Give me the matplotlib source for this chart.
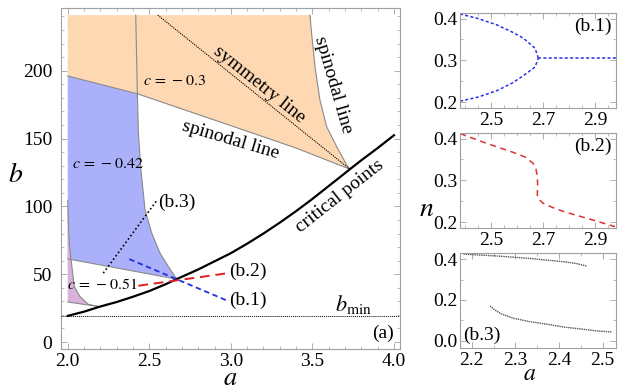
import numpy as np
import matplotlib
matplotlib.use("Agg")
import matplotlib.pyplot as plt
from matplotlib.ticker import MultipleLocator

plt.rcParams['font.family'] = ['Liberation Serif', 'DejaVu Serif']
plt.rcParams['mathtext.fontset'] = 'stix'

# ---------------- data ----------------
b_top = 241.0
# right spinodal line (top -> cusp)
spin_r_a = [3.485, 3.495, 3.516, 3.546, 3.587, 3.649, 3.71, 3.73]
spin_r_b = [241.0, 227.6, 203.0, 178.4, 158.8, 144.0, 130.6, 127.4]
# lower spinodal line (left -> cusp)
spin_l_a = [2.0, 2.427, 3.0, 3.4, 3.73]
spin_l_b = [196.1, 183.0, 159.5, 143.0, 127.4]
# c = -0.42 boundary (top -> critical point)
c042_a = [2.417, 2.427, 2.433, 2.447, 2.474, 2.515, 2.566, 2.617, 2.668]
c042_b = [241.0, 183.0, 155.0, 129.3, 97.4, 80.3, 65.5, 55.7, 46.4]
# lower boundary of c = -0.42 region
c042_low_a = [2.668, 2.0]
c042_low_b = [46.4, 61.3]
# c = -0.51 region boundary
c051_a = [2.0, 2.004, 2.01, 2.02, 2.04, 2.075, 2.126, 2.19]
c051_b = [104.3, 88.0, 72.0, 61.3, 41.0, 33.6, 27.8, 26.2]
c051_low_a = [2.19, 2.0]
c051_low_b = [26.2, 29.5]
# critical points
crit_a = [2.0, 2.1, 2.2, 2.3, 2.4, 2.5, 2.6, 2.668, 2.8, 2.9, 3.0, 3.1, 3.2,
          3.3, 3.4, 3.5, 3.6, 3.7, 3.73, 3.8, 3.9, 4.0]
crit_b = [19.3, 22.4, 26.2, 29.5, 33.4, 37.6, 42.6, 46.4, 53.5, 59.5, 65.5, 72.5, 80.0,
          88.0, 96.5, 105.5, 115.0, 124.5, 127.4, 134.0, 143.0, 152.4]
# symmetry line
sym_a = [2.552, 3.73]
sym_b = [241.0, 127.4]
b_min = 19.3
# cut lines
cut1_a = [2.378, 2.98]; cut1_b = [61.1, 30.4]
cut2_a = [2.433, 2.984]; cut2_b = [41.5, 50.8]
cut3_a = [2.218, 2.549]; cut3_b = [50.8, 104.8]

# panel (b.1)
b1_up_a = [2.38, 2.45, 2.521, 2.58, 2.624, 2.669, 2.682]
b1_up_n = [0.411, 0.400, 0.385, 0.368, 0.353, 0.329, 0.305]
b1_lo_a = [2.38, 2.45, 2.521, 2.58, 2.624, 2.669, 2.682]
b1_lo_n = [0.202, 0.212, 0.227, 0.245, 0.263, 0.284, 0.305]
b1_flat_a = [2.682, 2.98]
b1_flat_n = [0.305, 0.305]
# panel (b.2)
b2_a = [2.38, 2.48, 2.58, 2.63, 2.661, 2.672, 2.678, 2.679, 2.678, 2.683, 2.70, 2.74, 2.78, 2.88, 2.977]
b2_n = [0.412, 0.389, 0.368, 0.356, 0.341, 0.329, 0.31, 0.29, 0.265, 0.255, 0.245, 0.234, 0.225, 0.207, 0.189]
# panel (b.3)
b3_up_a = [2.181, 2.257, 2.333, 2.410, 2.440, 2.463]
b3_up_n = [0.424, 0.415, 0.403, 0.387, 0.378, 0.366]
b3_lo_a = [2.242, 2.253, 2.268, 2.295, 2.333, 2.372, 2.410, 2.448, 2.486, 2.52]
b3_lo_n = [0.171, 0.151, 0.132, 0.111, 0.094, 0.082, 0.068, 0.059, 0.049, 0.044]

ORANGE = '#fdd8b2'
BLUE = '#aab0fa'
PURPLE = '#d9b2dc'
EDGE = '#8a8a8a'
FRAME = '#a0a0a0'

W, H = 618, 389
fig = plt.figure(figsize=(W / 100, H / 100), dpi=100)


def style(ax, fs=13, ypad=5, xpad=3):
    for s in ax.spines.values():
        s.set_color(FRAME)
        s.set_linewidth(0.8)
    ax.tick_params(which='both', direction='in', color=FRAME, top=True, right=True,
                   labelsize=fs)
    ax.tick_params(which='major', length=4, width=0.6)
    ax.tick_params(which='minor', length=2, width=0.5)
    ax.tick_params(axis='y', pad=ypad)
    ax.tick_params(axis='x', pad=xpad)


# ---------------- main panel ----------------
ax = fig.add_axes([60.7 / W, 1 - 348.7 / H, (400 - 60.7) / W, (348.7 - 8.3) / H])
ax.set_xlim(1.957, 4.037)
ax.set_ylim(-4.9, 246)

# orange region
oa = np.concatenate([[2.0], spin_r_a, spin_l_a[::-1]])
ob = np.concatenate([[b_top], spin_r_b, spin_l_b[::-1]])
ax.fill(oa, ob, color=ORANGE, lw=0, zorder=1)
# blue region
ba = np.concatenate([spin_l_a[:2], c042_a[2:], c042_low_a[1:]])
bb = np.concatenate([spin_l_b[:2], c042_b[2:], c042_low_b[1:]])
ax.fill(ba, bb, color=BLUE, lw=0, zorder=2)
# purple region
pa = np.concatenate([c051_a, c051_low_a[1:]])
pb = np.concatenate([c051_b, c051_low_b[1:]])
ax.fill(pa, pb, color=PURPLE, lw=0, zorder=2)

# boundaries
ax.plot(spin_r_a, spin_r_b, color=EDGE, lw=0.8, zorder=3)
ax.plot(spin_l_a, spin_l_b, color=EDGE, lw=0.8, zorder=3)
ax.plot(c042_a, c042_b, color=EDGE, lw=0.8, zorder=3)
ax.plot(c042_low_a, c042_low_b, color=EDGE, lw=0.8, zorder=3)
ax.plot(c051_a, c051_b, color=EDGE, lw=0.8, zorder=3)
ax.plot(c051_low_a, c051_low_b, color=EDGE, lw=0.8, zorder=3)

ax.plot(sym_a, sym_b, color='black', lw=0.8, ls=(0, (1, 1)), zorder=4)
ax.axhline(b_min, color='black', lw=0.7, ls=(0, (1, 1)), zorder=4)
ax.plot(crit_a, crit_b, color='black', lw=1.6, zorder=5)

ax.plot(cut3_a, cut3_b, color='black', lw=1.2, ls=(0, (1, 1.5)), zorder=6)
ax.plot(cut2_a, cut2_b, color='#e02020', lw=1.4, ls=(0, (5, 3)), zorder=6)
ax.plot(cut1_a, cut1_b, color='#2030e0', lw=1.3, ls=(0, (3, 2)), zorder=6)

txt = dict(fontsize=11.5, zorder=7)
ax.text(2.463, 192.4, r'$c\,=\,-0.3$', ha='left', va='center', **txt)
ax.text(2.024, 131.0, r'$c\,=\,-0.42$', ha='left', va='center', **txt)
ax.text(1.994, 41.7, r'$c\,=\,-0.51$', ha='left', va='center', **txt)
ax.text(2.555, 103.0, '(b.3)', ha='left', va='center', fontsize=14, zorder=7)
ax.text(2.99, 52.0, '(b.2)', ha='left', va='center', fontsize=14, zorder=7)
ax.text(2.99, 30.4, '(b.1)', ha='left', va='center', fontsize=14, zorder=7)
ax.text(3.755, 28.0, r'$b_{\rm min}$', ha='center', va='center', fontsize=16, zorder=7)
ax.text(3.93, 6.6, '(a)', ha='center', va='center', fontsize=14, zorder=7)
ax.text(3.175, 190.0, 'symmetry line', rotation=-38.7, ha='center', va='center',
        fontsize=14, rotation_mode='anchor', zorder=7)
ax.text(3.625, 189.5, 'spinodal line', rotation=-73.8, ha='center', va='center',
        fontsize=14, rotation_mode='anchor', zorder=7)
ax.text(3.0, 149.0, 'spinodal line', rotation=-16.4, ha='center', va='center',
        fontsize=14, rotation_mode='anchor', zorder=7)
ax.text(3.669, 107.2, 'critical points', rotation=38.2, ha='center', va='center',
        fontsize=14, rotation_mode='anchor', zorder=7)

ax.set_xticks([2.0, 2.5, 3.0, 3.5, 4.0])
ax.set_xticklabels(['2.0', '2.5', '3.0', '3.5', '4.0'])
ax.set_yticks([0, 50, 100, 150, 200])
ax.xaxis.set_minor_locator(MultipleLocator(0.1))
ax.yaxis.set_minor_locator(MultipleLocator(10))
style(ax, fs=14, ypad=6, xpad=3)

fig.text(230 / W, 1 - 379 / H, r'$a$', ha='center', va='center', fontsize=19)
fig.text(16 / W, 1 - 175 / H, r'$b$', ha='center', va='center', fontsize=20)
fig.text(427 / W, 1 - 210 / H, r'$n$', ha='center', va='center', fontsize=20)
fig.text(530 / W, 1 - 374 / H, r'$a$', ha='center', va='center', fontsize=17)

# ---------------- right panels ----------------
pl, pw = 460 / W, (615.7 - 460) / W
ph = (108.3 - 12.7) / H

ax1 = fig.add_axes([pl, 1 - 108.3 / H, pw, ph])
lsb = (0, (2, 1.5))
ax1.plot(b1_up_a, b1_up_n, color='#2a30e8', lw=1.1, ls=lsb)
ax1.plot(b1_lo_a, b1_lo_n, color='#2a30e8', lw=1.1, ls=lsb)
ax1.plot(b1_flat_a, b1_flat_n, color='#2a30e8', lw=1.1, ls=lsb)
ax1.set_xlim(2.38, 2.98)
ax1.set_ylim(0.185, 0.414)
ax1.set_xticks([2.5, 2.7, 2.9])
ax1.set_yticks([0.2, 0.3, 0.4])
ax1.xaxis.set_minor_locator(MultipleLocator(0.05))
ax1.yaxis.set_minor_locator(MultipleLocator(0.05))
ax1.text(0.856, 0.853, '(b.1)', transform=ax1.transAxes, ha='center', va='center', fontsize=14)
style(ax1, fs=14, ypad=2, xpad=3)

ax2 = fig.add_axes([pl, 1 - 228.3 / H, pw, ph])
ax2.plot(b2_a, b2_n, color='#e03030', lw=1.1, ls=(0, (4, 3)))
ax2.set_xlim(2.38, 2.98)
ax2.set_ylim(0.185, 0.414)
ax2.set_xticks([2.5, 2.7, 2.9])
ax2.set_yticks([0.2, 0.3, 0.4])
ax2.xaxis.set_minor_locator(MultipleLocator(0.05))
ax2.yaxis.set_minor_locator(MultipleLocator(0.05))
ax2.text(0.856, 0.853, '(b.2)', transform=ax2.transAxes, ha='center', va='center', fontsize=14)
style(ax2, fs=14, ypad=2, xpad=3)

ax3 = fig.add_axes([pl, 1 - 348.3 / H, pw, ph])
ax3.plot(b3_up_a, b3_up_n, color='#555555', lw=1.0, ls=(0, (1, 0.6)))
ax3.plot(b3_lo_a, b3_lo_n, color='#555555', lw=1.0, ls=(0, (1, 0.6)))
ax3.set_xlim(2.173, 2.53)
ax3.set_ylim(-0.036, 0.431)
ax3.set_xticks([2.2, 2.3, 2.4, 2.5])
ax3.set_yticks([0.0, 0.2, 0.4])
ax3.xaxis.set_minor_locator(MultipleLocator(0.05))
ax3.yaxis.set_minor_locator(MultipleLocator(0.1))
ax3.text(0.139, 0.139, '(b.3)', transform=ax3.transAxes, ha='center', va='center', fontsize=14)
style(ax3, fs=14, ypad=2, xpad=3)

fig.savefig('out.png', dpi=100)
